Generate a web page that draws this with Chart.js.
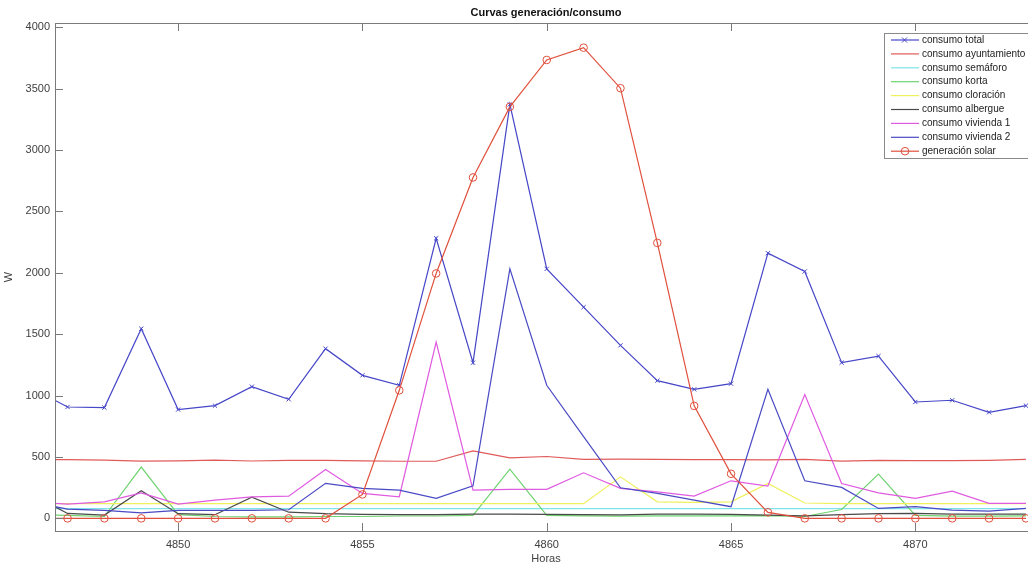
<!DOCTYPE html>
<html>
<head>
<meta charset="utf-8">
<title>Curvas generación/consumo</title>
<script src="https://cdn.jsdelivr.net/npm/chart.js@4"></script>
<style>
  html, body { margin: 0; padding: 0; background: #fff; overflow: hidden; }
</style>
</head>
<body>
<canvas id="curvasChart" width="1045" height="567"></canvas>
<script>
// horas (4846 queda fuera del eje, solo da la pendiente del primer tramo)
const horas = [4846, 4847, 4848, 4849, 4850, 4851, 4852, 4853, 4854, 4855, 4856, 4857, 4858, 4859,
               4860, 4861, 4862, 4863, 4864, 4865, 4866, 4867, 4868, 4869, 4870, 4871, 4872, 4873];

const consumoTotal = [1065, 907, 902, 1545, 886, 918, 1073, 970, 1382, 1165, 1084, 2281, 1268, 3372,
                      2032, 1720, 1409, 1122, 1051, 1097, 2160, 2011, 1268, 1322, 948, 962, 864, 918];
const consumoAyuntamiento = [480, 478, 474, 466, 468, 475, 467, 473, 472, 468, 465, 465, 550, 493,
                             504, 480, 483, 480, 478, 478, 476, 480, 466, 472, 470, 471, 473, 480];
const consumoSemaforo = [80, 80, 80, 80, 80, 80, 80, 80, 80, 80, 80, 80, 80, 80,
                         80, 80, 80, 80, 80, 80, 80, 80, 80, 80, 80, 80, 80, 80];
const consumoKorta = [30, 25, 15, 418, 30, 15, 12, 12, 15, 15, 19, 19, 25, 400,
                      25, 20, 18, 20, 20, 20, 22, 15, 72, 360, 25, 18, 18, 20];
const consumoCloracion = [120, 120, 120, 120, 120, 120, 120, 120, 120, 120, 120, 120, 120, 120,
                          120, 120, 338, 135, 130, 135, 285, 125, 120, 120, 120, 120, 120, 120];
const consumoAlbergue = [200, 40, 27, 225, 38, 30, 172, 50, 38, 33, 30, 30, 35, 35,
                         33, 30, 28, 35, 35, 32, 27, 20, 30, 38, 40, 35, 35, 35];
const consumoVivienda1 = [133, 116, 135, 208, 116, 149, 175, 181, 398, 203, 176, 1436, 230, 236,
                          236, 371, 244, 216, 181, 306, 263, 1008, 284, 208, 163, 222, 122, 122];
const consumoVivienda2 = [134, 75, 65, 45, 65, 65, 65, 70, 285, 244, 230, 163, 265, 2033,
                          1084, 665, 249, 203, 149, 95, 1051, 306, 252, 81, 95, 67, 59, 81];
const generacionSolar = [0, 0, 0, 0, 0, 0, 0, 0, 0, 195, 1043, 1995, 2777, 3352,
                         3734, 3834, 3504, 2244, 916, 363, 49, 0, 0, 0, 0, 0, 0, 0];

const yTicks = [0, 500, 1000, 1500, 2000, 2500, 3000, 3500, 4000];
const xTicks = [4850, 4855, 4860, 4865, 4870];

document.addEventListener("DOMContentLoaded", function () {

    const colors = {
        total: "#4646c8",
        ayuntamiento: "#e05a5a",
        semaforo: "#7fe3ea",
        korta: "#6fd36f",
        cloracion: "#f0f05a",
        albergue: "#4a4a4a",
        vivienda1: "#e05ae0",
        vivienda2: "#4a4ac4",
        solar: "#e0503c",
        axis: "#7a7a7a",
        text: "#404040"
    };
    const fontFamily = "'Liberation Sans', Arial, sans-serif";

    function puntos(valores) {
        return horas.map((h, i) => ({ x: h, y: valores[i] }));
    }

    const series = [
        { label: "consumo total", data: consumoTotal, color: colors.total, marker: "crossRot" },
        { label: "consumo ayuntamiento", data: consumoAyuntamiento, color: colors.ayuntamiento },
        { label: "consumo semáforo", data: consumoSemaforo, color: colors.semaforo },
        { label: "consumo korta", data: consumoKorta, color: colors.korta },
        { label: "consumo cloración", data: consumoCloracion, color: colors.cloracion },
        { label: "consumo albergue", data: consumoAlbergue, color: colors.albergue },
        { label: "consumo vivienda 1", data: consumoVivienda1, color: colors.vivienda1 },
        { label: "consumo vivienda 2", data: consumoVivienda2, color: colors.vivienda2 },
        { label: "generación solar", data: generacionSolar, color: colors.solar, marker: "circle" }
    ];

    const datasets = series.map((s, i) => ({
        label: s.label,
        data: puntos(s.data),
        borderColor: s.color,
        backgroundColor: "rgba(0,0,0,0)",
        borderWidth: 1.2,
        tension: 0,
        pointStyle: s.marker || "circle",
        pointRadius: s.marker === "circle" ? 3.8 : (s.marker ? 3 : 0),
        pointBorderColor: s.color,
        pointBackgroundColor: "rgba(0,0,0,0)",
        pointBorderWidth: 1,
        order: series.length - i   // el último se pinta encima
    }));

    // caja de ejes con marcas hacia dentro, título y leyenda
    const ejesPlugin = {
        id: "ejes",
        afterDatasetsDraw(chart) {
            const { ctx, chartArea: a, scales } = chart;
            ctx.save();
            ctx.strokeStyle = colors.axis;
            ctx.lineWidth = 1;
            ctx.strokeRect(a.left + 0.5, a.top + 0.5, a.right - a.left, a.bottom - a.top);
            ctx.beginPath();
            xTicks.forEach(v => {
                const px = Math.round(scales.x.getPixelForValue(v)) + 0.5;
                ctx.moveTo(px, a.bottom); ctx.lineTo(px, a.bottom - 8);
                ctx.moveTo(px, a.top); ctx.lineTo(px, a.top + 8);
            });
            yTicks.forEach(v => {
                const py = Math.round(scales.y.getPixelForValue(v)) + 0.5;
                ctx.moveTo(a.left, py); ctx.lineTo(a.left + 8, py);
                ctx.moveTo(a.right, py); ctx.lineTo(a.right - 8, py);
            });
            ctx.stroke();
            ctx.restore();
        },
        afterDraw(chart) {
            const { ctx, chartArea: a } = chart;
            ctx.save();

            // título
            ctx.fillStyle = "#111";
            ctx.font = "bold 11px " + fontFamily;
            ctx.textAlign = "center";
            ctx.textBaseline = "middle";
            ctx.fillText("Curvas generación/consumo", (a.left + a.right) / 2, 13);

            // leyenda
            const bx = 884, by = 33, bw = 160, bh = 125, step = 13.9;
            ctx.fillStyle = "#fff";
            ctx.fillRect(bx, by, bw, bh);
            ctx.strokeStyle = "#8a8a8a";
            ctx.lineWidth = 1;
            ctx.strokeRect(bx + 0.5, by + 0.5, bw, bh);
            ctx.font = "10px " + fontFamily;
            ctx.textAlign = "left";
            series.forEach((s, i) => {
                const y = by + 7 + i * step;
                ctx.strokeStyle = s.color;
                ctx.lineWidth = 1.2;
                ctx.beginPath();
                ctx.moveTo(891, y); ctx.lineTo(919, y);
                ctx.stroke();
                if (s.marker === "crossRot") {
                    ctx.lineWidth = 1;
                    ctx.beginPath();
                    ctx.moveTo(902, y - 2.5); ctx.lineTo(907, y + 2.5);
                    ctx.moveTo(902, y + 2.5); ctx.lineTo(907, y - 2.5);
                    ctx.stroke();
                } else if (s.marker === "circle") {
                    ctx.lineWidth = 1;
                    ctx.beginPath();
                    ctx.arc(905, y, 3.8, 0, Math.PI * 2);
                    ctx.stroke();
                }
                ctx.fillStyle = "#222";
                ctx.fillText(s.label, 922, y);
            });
            ctx.restore();
        }
    };

    new Chart(document.getElementById("curvasChart"), {
        type: "line",
        data: { datasets: datasets },
        options: {
            responsive: false,
            animation: false,
            layout: { padding: { top: 23, right: 8, left: 0, bottom: 0 } },
            plugins: {
                legend: { display: false },
                tooltip: { enabled: false },
                title: { display: false }
            },
            scales: {
                x: {
                    type: "linear",
                    min: 4846.66,
                    max: 4873.3,
                    border: { display: false },
                    grid: { display: false, drawTicks: false },
                    afterBuildTicks: s => { s.ticks = xTicks.map(v => ({ value: v })); },
                    ticks: {
                        padding: 7,
                        maxRotation: 0,
                        autoSkip: false,
                        color: colors.text,
                        font: { size: 11, family: fontFamily },
                        callback: v => String(v)
                    },
                    title: {
                        display: true,
                        text: "Horas",
                        color: colors.text,
                        font: { size: 11, family: fontFamily },
                        padding: { top: 0, bottom: 1 }
                    },
                    afterFit: s => { s.height = 36; }
                },
                y: {
                    min: -103,
                    max: 4035,
                    border: { display: false },
                    grid: { display: false, drawTicks: false },
                    afterBuildTicks: s => { s.ticks = yTicks.map(v => ({ value: v })); },
                    ticks: {
                        padding: 5,
                        autoSkip: false,
                        color: colors.text,
                        font: { size: 11, family: fontFamily },
                        callback: v => String(v)
                    },
                    title: {
                        display: true,
                        text: "W",
                        color: colors.text,
                        font: { size: 11, family: fontFamily },
                        padding: { top: 2, bottom: 0 }
                    },
                    afterFit: s => { s.width = 55; }
                }
            }
        },
        plugins: [ejesPlugin]
    });

});
</script>
</body>
</html>
